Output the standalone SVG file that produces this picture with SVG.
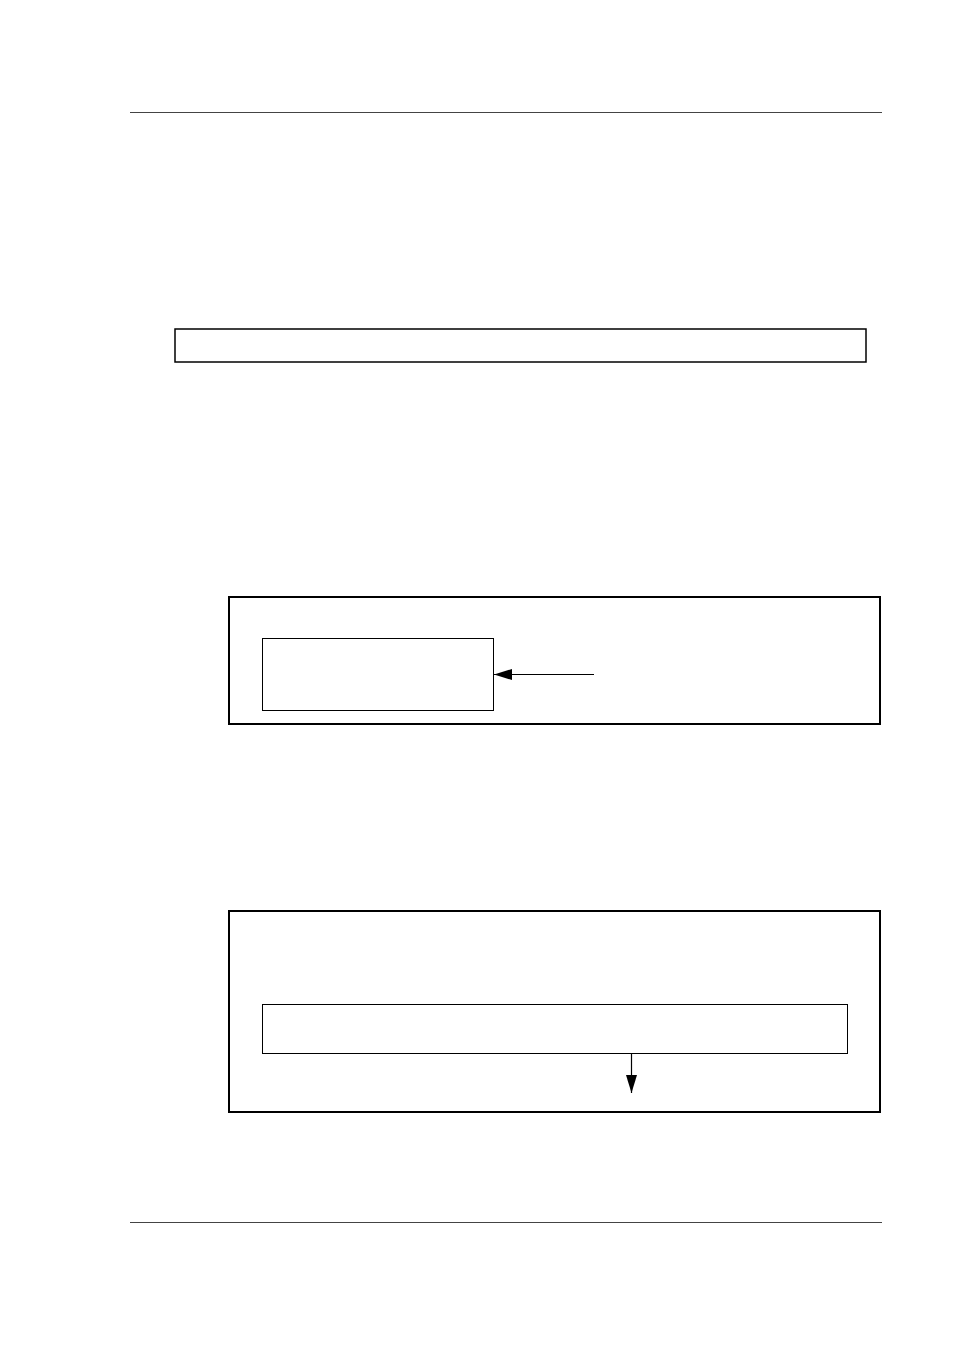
<svg xmlns="http://www.w3.org/2000/svg" width="954" height="1350" viewBox="0 0 954 1350">
<style>
.rule{stroke:#444;stroke-width:1.2;fill:none}
.thick{fill:none;stroke:#000;stroke-width:2}
.mid{fill:none;stroke:#000;stroke-width:1.5}
.thin{fill:none;stroke:#000;stroke-width:1}
.conn{stroke:#000;stroke-width:1.2;fill:none}
</style>
<defs>
<marker id="ah" markerWidth="18" markerHeight="11" refX="18" refY="5.5" orient="auto" markerUnits="userSpaceOnUse">
<path d="M0,0 L18,5.5 L0,11 Z" fill="#000"/>
</marker>
</defs>
<rect width="954" height="1350" fill="#fff"/>
<line class="rule" x1="130" y1="112.5" x2="882" y2="112.5"/>
<line class="rule" x1="130" y1="1222.5" x2="882" y2="1222.5"/>
<g id="box1"><rect class="mid" x="175" y="329" width="691" height="33"/></g>
<g id="group2"><rect class="thick" x="229" y="597" width="651" height="127"/></g>
<g id="inner2"><rect class="thin" x="262.5" y="638.5" width="231" height="72"/></g>
<g id="group3"><rect class="thick" x="229" y="911" width="651" height="201"/></g>
<g id="inner3"><rect class="thin" x="262.5" y="1004.5" width="585" height="49"/></g>
<g id="connectors">
<line class="conn" x1="594" y1="674.5" x2="494" y2="674.5" marker-end="url(#ah)"/>
<line class="conn" x1="631.5" y1="1054" x2="631.5" y2="1093" marker-end="url(#ah)"/>
</g>
</svg>
